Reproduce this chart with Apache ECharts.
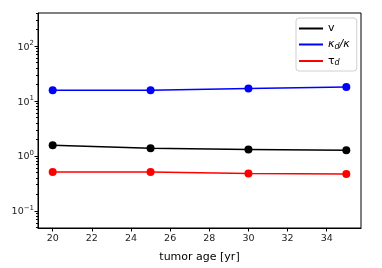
<!DOCTYPE html>
<html><head><meta charset="utf-8">
<script src="https://cdn.jsdelivr.net/npm/echarts@6/dist/echarts.min.js"></script>
<style>html,body{margin:0;padding:0;background:#fff}#c{width:382px;height:268px}</style>
</head><body><div id="c"></div>
<script>
const ages = [20, 25, 30, 35];
const vVals = [1.57, 1.38, 1.32, 1.27];
const kappaVals = [15.8, 15.8, 17.0, 18.0];
const tauVals = [0.51, 0.51, 0.48, 0.47];
const xTicks = [20, 22, 24, 26, 28, 30, 32, 34];
const yTicks = [0.1, 1, 10, 100];
const yMinorTicks = [0.05,0.06,0.07,0.08,0.09,0.2,0.3,0.4,0.5,0.6,0.7,0.8,0.9,2,3,4,5,6,7,8,9,20,30,40,50,60,70,80,90,200,300,400];
const seriesNames = ['v', 'kd', 'td'];
const legendLabels = {v: 'v', kd: '{it|κ}{sub|d}{it|/κ}', td: 'τ{sub|d}'};

const font = 'DejaVu Sans';
const pair = a => ages.map((x, i) => [x, a[i]]);
const mk = (name, data, color) => ({
  name, type: 'line', data: pair(data), xAxisIndex: 0, yAxisIndex: 0,
  symbol: 'circle', symbolSize: 8, itemStyle: {color}, lineStyle: {color, width: 1.5},
  emphasis: {disabled: true}, animation: false
});
const yLabel = v => {
  const e = Math.round(Math.log10(v));
  return '{b|10}{s|' + (e < 0 ? '\u2212' + (-e) : e) + '}';
};
const chart = echarts.init(document.getElementById('c'), null, {renderer: 'canvas'});
chart.setOption({
  animation: false,
  backgroundColor: '#fff',
  grid: {left: 38, right: 21, top: 13, bottom: 40, show: true, borderColor: '#000', borderWidth: 1, backgroundColor: 'transparent'},
  xAxis: {
    type: 'value', min: 19.25, max: 35.75,
    name: 'tumor age [yr]', nameLocation: 'middle', nameGap: 24,
    nameTextStyle: {fontFamily: font, fontSize: 11, color: '#000'},
    axisLine: {lineStyle: {color: '#000'}},
    axisTick: {length: 3.5, lineStyle: {color: '#000'}, customValues: xTicks},
    axisLabel: {fontFamily: font, fontSize: 9.5, color: '#222', margin: 6, customValues: xTicks},
    splitLine: {show: false}
  },
  yAxis: [{
    type: 'log', logBase: 10, min: 0.049, max: 400,
    axisLine: {show: true, lineStyle: {color: '#000'}},
    axisTick: {length: 3.5, lineStyle: {color: '#000'}, customValues: yTicks},
    axisLabel: {fontFamily: font, color: '#222', margin: 4, customValues: yTicks, formatter: yLabel,
      rich: {b: {fontSize: 9.5, fontFamily: font, color: '#222', verticalAlign: 'bottom'},
             s: {fontSize: 7, fontFamily: font, color: '#222', verticalAlign: 'top', padding: [0, 0, 5, 0]}}},
    splitLine: {show: false}
  }, {
    type: 'log', logBase: 10, min: 0.049, max: 400, position: 'left',
    axisLine: {show: false},
    axisTick: {length: 2, lineStyle: {color: '#000'}, customValues: yMinorTicks},
    axisLabel: {show: false},
    splitLine: {show: false}
  }],
  legend: {
    orient: 'vertical', left: 296, top: 18,
    data: seriesNames,
    icon: 'rect', itemWidth: 24, itemHeight: 2, itemGap: 5,
    padding: [5, 7, 4, 3],
    backgroundColor: '#fff', borderColor: '#d0d0d0', borderWidth: 1, borderRadius: 3,
    formatter: n => legendLabels[n],
    textStyle: {fontFamily: font, fontSize: 11, color: '#000',
      rich: {it: {fontStyle: 'italic', fontSize: 11, fontFamily: font}, sub: {fontSize: 8, fontStyle: 'italic', fontFamily: font, verticalAlign: 'bottom', padding: [4, 0, 0, 0]}}}
  },
  series: [mk('v', vVals, '#000'), mk('kd', kappaVals, '#0000ff'), mk('td', tauVals, '#ff0000')]
});
</script></body></html>
